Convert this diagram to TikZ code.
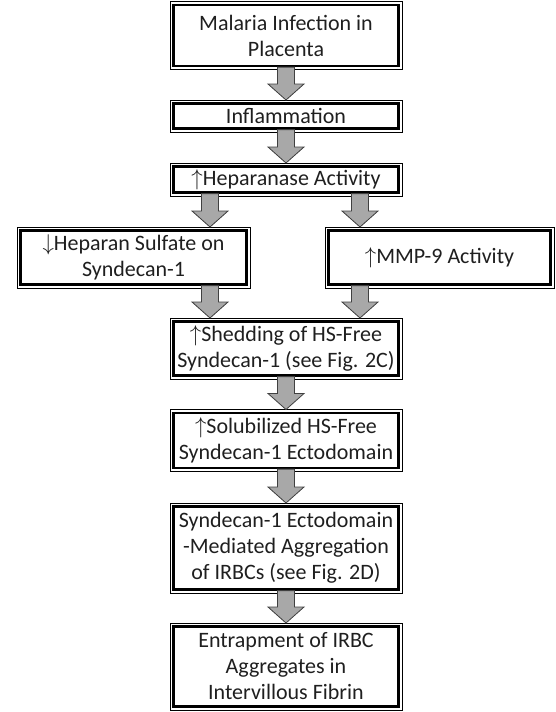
\documentclass[tikz,border=0pt]{standalone}
\usepackage{fontspec}
\setmainfont{Carlito}
\usetikzlibrary{calc}
\tikzset{
  x=1pt, y=1pt,
  flowbox/.style={draw=black, line width=0.9pt, minimum width=232pt, inner sep=0pt, outer sep=0pt,
    align=center, font=\fontsize{22}{26}\selectfont, text=black!88,
    path picture={\draw[line width=2.3pt] ([shift={(3.6pt,3.6pt)}]path picture bounding box.south west) rectangle ([shift={(-3.6pt,-3.6pt)}]path picture bounding box.north east);}},
  fatarrow/.style={fill=gray!68, draw=black!75, line width=0.8pt, line join=miter}
}
\newcommand\fatarr[3]{\draw[fatarrow] let \p1=(#1.south), \p2=(#2.north), \p3=(#3) in
  (\x3-8.5pt,\y1+2.4pt) -- (\x3+8.5pt,\y1+2.4pt) -- (\x3+8.5pt,\y2+16pt) -- (\x3+18pt,\y2+16pt) -- (\x3,\y2) -- (\x3-18pt,\y2+16pt) -- (\x3-8.5pt,\y2+16pt) -- cycle;}
\newcommand\upa{\raisebox{0.5pt}{\scalebox{1.1}{$\uparrow$}}}
\newcommand\downa{\raisebox{0.5pt}{\scalebox{1.1}{$\downarrow$}}}
\begin{document}
\begin{tikzpicture}
\useasboundingbox (0,0) rectangle (555,-712);
\node[flowbox, minimum height=68pt] (b1) at (286,-35.5) {Malaria Infection in\\Placenta};
\node[flowbox, minimum height=32pt] (b2) at (286,-116) {Inflammation};
\node[flowbox, minimum height=33pt] (b3) at (286,-179.5) {\upa Heparanase Activity};
\node[flowbox, minimum width=233pt, minimum height=61pt] (bl) at (133.5,-257.5) {\downa Heparan Sulfate on\\Syndecan-1};
\node[flowbox, minimum width=229pt, minimum height=61pt] (br) at (439.5,-257.5) {\upa MMP-9 Activity};
\node[flowbox, minimum height=61pt] (b4) at (286,-348.5) {\upa Shedding of HS-Free\\Syndecan-1 (see Fig. 2C)};
\node[flowbox, minimum height=62pt] (b5) at (286,-440.5) {\upa Solubilized HS-Free\\Syndecan-1 Ectodomain};
\node[flowbox, minimum height=90pt] (b6) at (286,-548) {Syndecan-1 Ectodomain\\-Mediated Aggregation\\of IRBCs (see Fig. 2D)};
\node[flowbox, minimum height=87pt] (b7) at (286,-666.5) {Entrapment of IRBC\\Aggregates in\\Intervillous Fibrin};
\coordinate (xl) at (210,0);
\coordinate (xr) at (360,0);
\fatarr{b1}{b2}{b1.south}
\fatarr{b2}{b3}{b2.south}
\fatarr{b3}{bl}{xl}
\fatarr{b3}{br}{xr}
\fatarr{bl}{b4}{xl}
\fatarr{br}{b4}{xr}
\fatarr{b4}{b5}{b4.south}
\fatarr{b5}{b6}{b5.south}
\fatarr{b6}{b7}{b6.south}
\end{tikzpicture}
\end{document}
